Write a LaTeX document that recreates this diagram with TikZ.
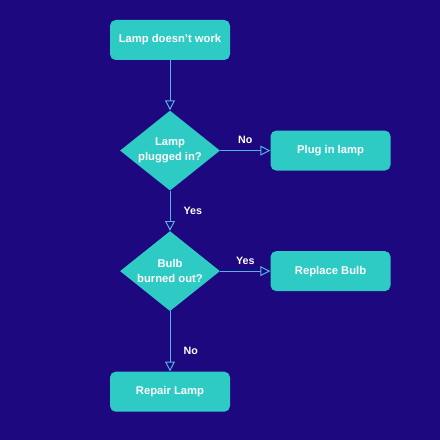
\documentclass[tikz,border=0pt]{standalone}
\usepackage{fontspec}
\setmainfont{Liberation Sans}
\usepackage{tikz}
\usetikzlibrary{positioning,arrows.meta,shapes.geometric}

\definecolor{bgblue}{HTML}{1E0880}
\definecolor{boxteal}{HTML}{2ECBC5}
\definecolor{lineblue}{HTML}{55B2E8}

\tikzset{
  stepbox/.style={rectangle, rounded corners=4pt, fill=boxteal, text=white,
    minimum width=3cm, minimum height=1cm, font=\bfseries\fontsize{8}{10}\selectfont},
  decision/.style={diamond, fill=boxteal, text=white, inner sep=0pt, aspect=1.25,
    minimum width=2.5cm, minimum height=2cm, align=center,
    font=\bfseries\fontsize{8}{10.5}\selectfont},
  flow/.style={draw=lineblue, line width=0.7pt, -{Triangle[open, length=7pt, width=7pt]}},
  answer/.style={text=white, font=\bfseries\fontsize{7.6}{10}\selectfont}
}

\begin{document}
\begin{tikzpicture}

\fill[bgblue] (0,0) rectangle (11,-11);

\node[stepbox] (start) at (4.25,-1) {Lamp doesn't work};
\node[decision, below=1.25cm of start] (plugged) {Lamp\\plugged in?};
\node[stepbox, right=1.25cm of plugged] (plugin) {Plug in lamp};
\node[decision, below=1cm of plugged] (burned) {Bulb\\burned out?};
\node[stepbox, right=1.25cm of burned] (replace) {Replace Bulb};
\node[stepbox, below=1.5cm of burned] (repair) {Repair Lamp};

\draw[flow] (start) -- (plugged);
\draw[flow] (plugged) -- node[answer, above=1pt] {No} (plugin);
\draw[flow] (plugged) -- node[answer, right=6pt] {Yes} (burned);
\draw[flow] (burned) -- node[answer, above=1pt] {Yes} (replace);
\draw[flow] (burned) -- node[answer, right=6pt, pos=0.65] {No} (repair);

\end{tikzpicture}
\end{document}
